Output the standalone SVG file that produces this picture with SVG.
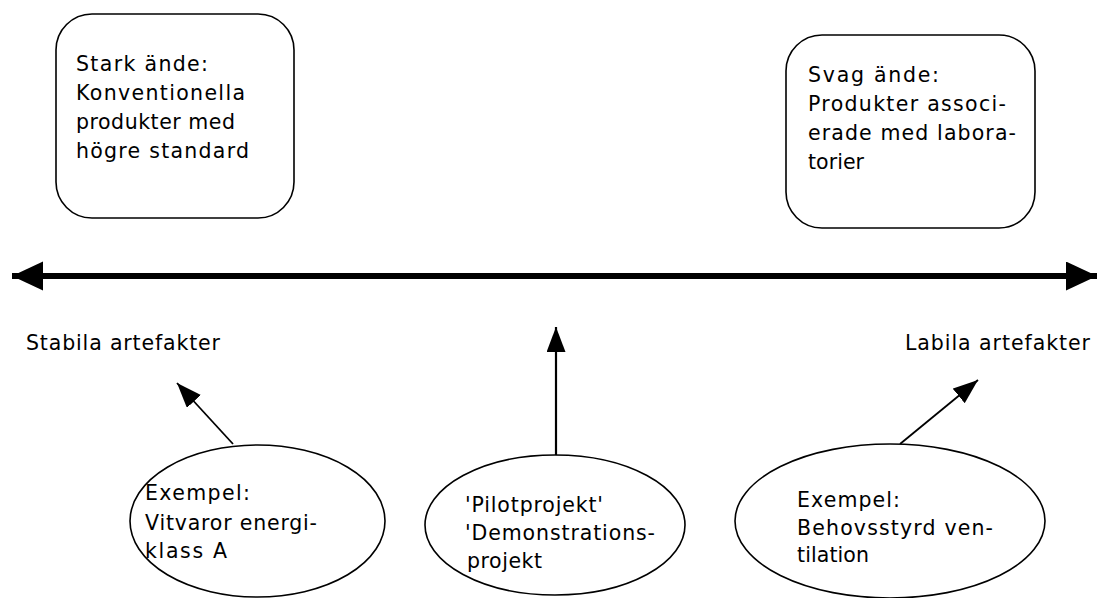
<svg xmlns="http://www.w3.org/2000/svg" width="1099" height="598" viewBox="0 0 1099 598">
<style>
  .shape { fill: #ffffff; stroke: #000000; stroke-width: 1.6; }
  .t { font-family: "DejaVu Sans", "Liberation Sans", sans-serif; font-size: 20.5px; fill: #000000; }
  .conn { stroke: #000000; fill: none; }
</style>
<defs>
  <marker id="bigHead" markerUnits="userSpaceOnUse" markerWidth="32" markerHeight="30" refX="31" refY="14.5" orient="auto-start-reverse">
    <path d="M0,0 L31,14.5 L0,29 Z" fill="#000000"/>
  </marker>
  <marker id="smallHead" markerUnits="userSpaceOnUse" markerWidth="26" markerHeight="20" refX="25" refY="9.5" orient="auto">
    <path d="M0,0 L25,9.5 L0,19 Z" fill="#000000"/>
  </marker>
</defs>
<rect width="1099" height="598" fill="#ffffff"/>

<g id="connectors">
  <line class="conn" x1="12" y1="276" x2="1097" y2="276" stroke-width="6" marker-start="url(#bigHead)" marker-end="url(#bigHead)"/>
  <line class="conn" x1="233" y1="444" x2="177" y2="383" stroke-width="1.8" marker-end="url(#smallHead)"/>
  <line class="conn" x1="556" y1="455" x2="556" y2="327" stroke-width="2.2" marker-end="url(#smallHead)"/>
  <line class="conn" x1="900" y1="444" x2="978" y2="380" stroke-width="1.8" marker-end="url(#smallHead)"/>
</g>

<g id="strong-end">
  <rect class="shape" x="56" y="14" width="238" height="204" rx="36" ry="36"/>
  <text class="t" x="76" y="71" textLength="132" lengthAdjust="spacing">Stark ände:</text>
  <text class="t" x="76" y="100" textLength="169" lengthAdjust="spacing">Konventionella</text>
  <text class="t" x="76" y="129" textLength="159" lengthAdjust="spacing">produkter med</text>
  <text class="t" x="76" y="158" textLength="173" lengthAdjust="spacing">högre standard</text>
</g>

<g id="weak-end">
  <rect class="shape" x="786" y="35" width="249" height="193" rx="36" ry="36"/>
  <text class="t" x="808" y="82" textLength="131" lengthAdjust="spacing">Svag ände:</text>
  <text class="t" x="808" y="111" textLength="198" lengthAdjust="spacing">Produkter associ-</text>
  <text class="t" x="808" y="140" textLength="208" lengthAdjust="spacing">erade med labora-</text>
  <text class="t" x="808" y="169" textLength="56" lengthAdjust="spacing">torier</text>
</g>

<g id="label-stable">
  <text class="t" x="26" y="350" textLength="194" lengthAdjust="spacing">Stabila artefakter</text>
</g>

<g id="label-labile">
  <text class="t" x="905" y="350" textLength="185" lengthAdjust="spacing">Labila artefakter</text>
</g>

<g id="example-appliances">
  <ellipse class="shape" cx="257.5" cy="521" rx="127.5" ry="76"/>
  <text class="t" x="145" y="500" textLength="105" lengthAdjust="spacing">Exempel:</text>
  <text class="t" x="145" y="530" textLength="172" lengthAdjust="spacing">Vitvaror energi-</text>
  <text class="t" x="145" y="558" textLength="82" lengthAdjust="spacing">klass A</text>
</g>

<g id="pilot-projects">
  <ellipse class="shape" cx="555" cy="525" rx="130" ry="70"/>
  <text class="t" x="465" y="512" textLength="138" lengthAdjust="spacing">'Pilotprojekt'</text>
  <text class="t" x="465" y="540" textLength="190" lengthAdjust="spacing">'Demonstrations-</text>
  <text class="t" x="467" y="568" textLength="75" lengthAdjust="spacing">projekt</text>
</g>

<g id="example-ventilation">
  <ellipse class="shape" cx="890" cy="521" rx="155" ry="77"/>
  <text class="t" x="797" y="507" textLength="103" lengthAdjust="spacing">Exempel:</text>
  <text class="t" x="797" y="535" textLength="196" lengthAdjust="spacing">Behovsstyrd ven-</text>
  <text class="t" x="797" y="562" textLength="72" lengthAdjust="spacing">tilation</text>
</g>
</svg>
